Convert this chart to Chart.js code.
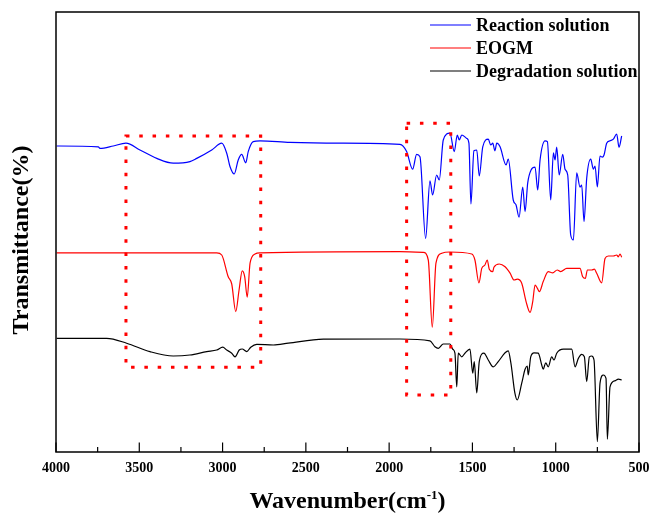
<!DOCTYPE html>
<html><head><meta charset="utf-8">
<script src="https://cdn.jsdelivr.net/npm/chart.js@4.4.1/dist/chart.umd.min.js"></script>
<style>html,body{margin:0;padding:0;background:#fff;}canvas{display:block;}</style>
</head><body>
<canvas id="c" width="649" height="514"></canvas>
<script>
// ---------- data ----------
const xTickLabels = [4000, 3500, 3000, 2500, 2000, 1500, 1000, 500];
const minorTicks = [3750, 3250, 2750, 2250, 1750, 1250, 750];
const seriesNames = ['Reaction solution', 'EOGM', 'Degradation solution'];
const seriesColors = ['#0000ff', '#ff0000', '#000000'];

const reactionWn = [3996,3746,3736,3656,3580,3496,3395,3296,3196,3155,3065,3005,2975,2955,2930,2906,2885,2861,2846,2816,2775,2595,2295,1935,
  1895,1859,1835,1815,1781,1755,1739,1715,1699,1675,1635,1609,1591,1579,1564,1534,1521,1509,1491,1474,1459,1438,1405,1390,1378,1365,1354,1334,
  1298,1285,1255,1238,1220,1198,1184,1168,1148,1124,1108,1094,1064,1050,1030,1014,1004,994,979,958,944,928,910,894,874,854,844,830,814,790,774,764,750,734,720,710,694,674,654,634,620,604];
const reactionT = [76.5,76.3,75.9,76.5,77.2,75.5,73.4,72.2,72.6,73.4,75.5,77.2,74.7,71.3,69.5,73,74.4,72.3,75.1,77.6,77.8,77.4,77.2,76.9,
  75.1,70.7,74.4,73.8,53.4,67.8,64.25,69.25,68,78,79.7,75.1,79.25,78,79.25,78.4,77.2,62,75.3,75.5,69,76.3,78.2,76.75,77.2,75.3,77.2,76.3,
  71.75,73.2,63,61.75,58.7,66.2,60.1,67.3,70.5,71.2,65.5,73,77.8,77.6,63,74.8,73,76.2,69.25,74.4,70.7,69.25,54.25,53,69.8,66.2,66.75,57.6,68.4,73.2,70.7,71.5,66.3,74,73.7,74.25,77.2,77.8,78.2,79.5,76.2,79];

const eogmWn = [3996,3035,3005,2966,2945,2921,2901,2882,2867,2852,2835,2805,2775,1935,1795,1765,1741,1719,1684,1635,1504,1485,1461,1444,1425,1411,1399,1378,1371,1339,1304,1274,1250,1231,1204,1178,1154,1138,1124,1110,1098,1075,1045,1018,991,970,934,854,838,822,810,784,768,754,724,704,684,654,634,624,614,604];
const eogmT = [49.8,49.8,49.25,43.8,42,35.1,40.5,45.3,43.8,38.7,47.2,49.5,49.8,50.1,49.9,48,31.2,47.2,49.7,50,49.5,48,42.3,45.9,46.75,48,45.7,45.1,46.2,47,46.3,44.7,43,43.2,42.2,37.6,34.9,37.6,41.75,40.9,40.1,42.6,45.1,44.8,45.5,45.1,45.9,45.9,43.8,43.4,45.5,45.5,45.7,44.7,42.3,48.4,49,49,49.25,48.8,49.5,48.7];

const degradWn = [3996,3696,3576,3436,3296,3196,3095,3035,2999,2975,2945,2925,2900,2882,2855,2831,2795,2695,2605,2395,1935,1755,1725,1705,1675,1635,1618,1605,1594,1585,1564,1545,1515,1498,1489,1474,1459,1431,1405,1375,1345,1304,1285,1269,1245,1231,1204,1184,1171,1165,1150,1130,1105,1084,1075,1060,1045,1024,1010,994,954,904,884,864,844,828,814,798,784,770,750,734,714,698,690,674,644,624,604];
const degradT = [28.4,28.4,27.2,25.1,24,24.25,25.1,25.5,26.2,25.5,24.7,23.8,25.5,25.75,25.1,26.2,26.9,26.75,27.2,28.2,28.25,27.8,26.3,25.9,27,27,25.7,24.7,16.3,24.7,23.8,24.7,25.7,19.7,22.6,14.8,22.6,24.7,23,21.3,22.6,24.8,25.3,22.2,14.7,13,17.2,20.7,21.5,19.25,23.8,24.8,24.7,21.75,20.7,22.3,21.3,23.8,23,24.7,25.7,25.7,21.3,23.4,24.4,23.8,17.6,23.8,24,23,2.6,17.2,19.25,18.4,3.2,16.3,17.8,18.2,18];

// highlighted regions (wavenumber range, transmittance range)
const boxWn = [[3580, 2771], [1895, 1630]];
const boxT = [[79, 21.2], [82.2, 14.25]];

// ---------- build ----------
const toXY = (xs, ys) => xs.map((v, i) => ({ x: v, y: ys[i] }));
const serif = "'Liberation Serif','Times New Roman',serif";

const decor = {
  id: 'decor',
  afterDatasetsDraw(chart) {
    const { ctx, scales: { x, y } } = chart;
    ctx.save();
    ctx.strokeStyle = '#ff0000';
    ctx.lineWidth = 3;
    ctx.lineCap = 'butt';
    ctx.setLineDash([3.5, 9.8]);
    boxWn.forEach((b, i) => {
      const x1 = x.getPixelForValue(b[0]), x2 = x.getPixelForValue(b[1]);
      const y1 = y.getPixelForValue(boxT[i][0]), y2 = y.getPixelForValue(boxT[i][1]);
      ctx.beginPath();
      ctx.moveTo(x1, y1); ctx.lineTo(x2, y1); ctx.lineTo(x2, y2); ctx.lineTo(x1, y2); ctx.closePath();
      ctx.stroke();
    });
    ctx.restore();
  },
  afterDraw(chart) {
    const { ctx, chartArea: a, scales: { x } } = chart;
    ctx.save();
    // frame
    ctx.strokeStyle = '#000';
    ctx.lineWidth = 1.5;
    ctx.strokeRect(a.left, a.top, a.right - a.left, a.bottom - a.top);
    // inward ticks
    ctx.lineWidth = 1.2;
    xTickLabels.forEach(v => {
      const px = x.getPixelForValue(v);
      ctx.beginPath(); ctx.moveTo(px, a.bottom); ctx.lineTo(px, a.bottom - 9.5); ctx.stroke();
    });
    minorTicks.forEach(v => {
      const px = x.getPixelForValue(v);
      ctx.beginPath(); ctx.moveTo(px, a.bottom); ctx.lineTo(px, a.bottom - 5); ctx.stroke();
    });
    // legend
    ctx.font = 'bold 18px ' + serif;
    ctx.textBaseline = 'alphabetic';
    ctx.textAlign = 'left';
    seriesNames.forEach((n, i) => {
      const ly = 25 + i * 23;
      ctx.strokeStyle = seriesColors[i];
      ctx.lineWidth = 1.2;
      ctx.beginPath(); ctx.moveTo(430, ly); ctx.lineTo(471, ly); ctx.stroke();
      ctx.fillStyle = '#000';
      ctx.fillText(n, 476, ly + 6);
    });
    // y title
    ctx.fillStyle = '#000';
    ctx.save();
    ctx.translate(27.5, (a.top + a.bottom) / 2 + 8);
    ctx.rotate(-Math.PI / 2);
    ctx.font = 'bold 24px ' + serif;
    ctx.textAlign = 'center';
    ctx.fillText('Transmittance(%)', 0, 0);
    ctx.restore();
    // x title with superscript
    const p1 = 'Wavenumber(cm', sup = '-1', p2 = ')';
    ctx.font = 'bold 24px ' + serif;
    const w1 = ctx.measureText(p1).width, w3 = ctx.measureText(p2).width;
    ctx.font = 'bold 13px ' + serif;
    const w2 = ctx.measureText(sup).width;
    const cx = (a.left + a.right) / 2;
    let sx = cx - (w1 + w2 + w3) / 2;
    const by = 508;
    ctx.textAlign = 'left';
    ctx.font = 'bold 24px ' + serif;
    ctx.fillText(p1, sx, by);
    ctx.font = 'bold 13px ' + serif;
    ctx.fillText(sup, sx + w1, by - 9);
    ctx.font = 'bold 24px ' + serif;
    ctx.fillText(p2, sx + w1 + w2, by);
    ctx.restore();
  }
};

const mk = (i, xs, ys) => ({
  label: seriesNames[i],
  data: toXY(xs, ys),
  borderColor: seriesColors[i],
  borderWidth: 1.2,
  pointRadius: 0,
  fill: false,
  cubicInterpolationMode: 'monotone'
});

new Chart(document.getElementById('c'), {
  type: 'line',
  data: {
    datasets: [
      mk(0, reactionWn, reactionT),
      mk(1, eogmWn, eogmT),
      mk(2, degradWn, degradT)
    ]
  },
  options: {
    responsive: false,
    animation: false,
    devicePixelRatio: 1,
    layout: { padding: { left: 56, right: 10, top: 12, bottom: 0 } },
    plugins: { legend: { display: false }, tooltip: { enabled: false } },
    scales: {
      x: {
        type: 'linear',
        reverse: true,
        min: 500,
        max: 4000,
        afterBuildTicks: s => { s.ticks = xTickLabels.map(v => ({ value: v })); },
        afterFit: s => { s.height = 62; s.paddingLeft = 0; s.paddingRight = 0; },
        grid: { display: false, drawTicks: false },
        border: { display: false },
        ticks: {
          color: '#000',
          font: { family: serif, size: 14, weight: 'bold' },
          padding: 8,
          maxRotation: 0,
          autoSkip: false,
          callback: v => String(v)
        }
      },
      y: { display: false, min: 0, max: 110 }
    }
  },
  plugins: [decor]
});
</script>
</body></html>
